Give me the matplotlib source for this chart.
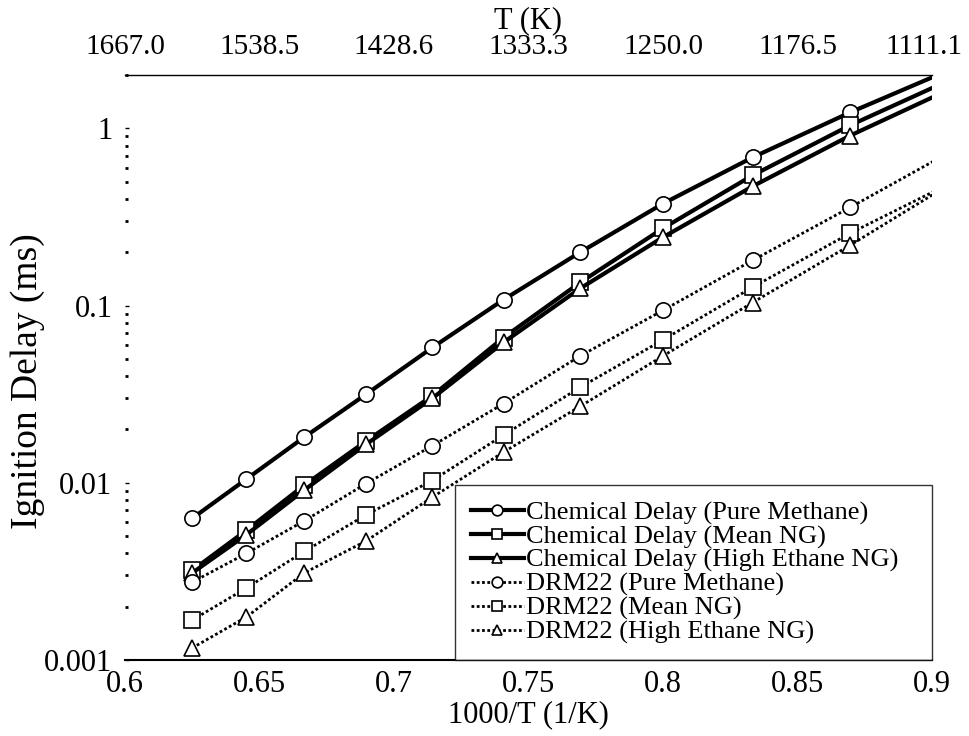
import numpy as np
import matplotlib
matplotlib.use("Agg")
import matplotlib.pyplot as plt
import matplotlib.transforms as mtransforms

plt.rcParams['font.family'] = ['Liberation Serif', 'DejaVu Serif']

# temperatures of the computed points (K) -> 1000/T
temps = [1600, 1550, 1500, 1450, 1400, 1350, 1300, 1250, 1200, 1150, 1100]
inv_t = [1000.0 / t for t in temps]

# ignition delay (ms)
chem_pure = [0.0063, 0.0105, 0.0181, 0.0316, 0.058, 0.108, 0.200, 0.376, 0.686, 1.23, 2.22]
chem_mean = [0.0032, 0.0054, 0.0097, 0.0172, 0.031, 0.066, 0.135, 0.273, 0.543, 1.04, 1.95]
chem_high = [0.0031, 0.0051, 0.0091, 0.0165, 0.030, 0.062, 0.125, 0.243, 0.471, 0.91, 1.73]
drm_pure = [0.00275, 0.0040, 0.0061, 0.0099, 0.0162, 0.028, 0.052, 0.094, 0.180, 0.358, 0.77]
drm_mean = [0.00168, 0.00255, 0.0041, 0.0066, 0.0103, 0.0186, 0.0346, 0.064, 0.127, 0.256, 0.51]
drm_high = [0.00117, 0.00175, 0.0031, 0.0047, 0.0083, 0.0149, 0.027, 0.052, 0.104, 0.219, 0.51]

labels = ["Chemical Delay (Pure Methane)", "Chemical Delay (Mean NG)",
          "Chemical Delay (High Ethane NG)", "DRM22 (Pure Methane)",
          "DRM22 (Mean NG)", "DRM22 (High Ethane NG)"]
series = [chem_pure, chem_mean, chem_high, drm_pure, drm_mean, drm_high]
markers = ['o', 's', '^', 'o', 's', '^']

x_ticks = [0.6, 0.65, 0.7, 0.75, 0.8, 0.85, 0.9]
x_labels = ['0.6', '0.65', '0.7', '0.75', '0.8', '0.85', '0.9']
y_ticks = [0.001, 0.01, 0.1, 1]
y_labels = ['0.001', '0.01', '0.1', '1']
top_labels = ['1667.0', '1538.5', '1428.6', '1333.3', '1250.0', '1176.5', '1111.1']

fig = plt.figure(figsize=(9.7, 7.36), dpi=100)
ax = fig.add_axes([125 / 970, 1 - 660 / 736, 807 / 970, 585 / 736])

for i, (vals, lab, mk) in enumerate(zip(series, labels, markers)):
    if i < 3:
        ax.plot(inv_t, vals, color='black', lw=3.0, ls='-', marker=mk,
                ms=11, mfc='white', mec='black', mew=1.2, label=lab)
    else:
        ax.plot(inv_t, vals, color='black', lw=2.0, ls=(0, (1, 0.9)), marker=mk,
                ms=11, mfc='white', mec='black', mew=1.2, label=lab)

ax.set_yscale('log')
ax.set_xlim(0.6, 0.9)
ax.set_ylim(0.001, 2.0)
ax.set_xticks(x_ticks)
ax.set_xticklabels(x_labels)
ax.set_yticks(y_ticks)
ax.set_yticklabels(y_labels)
ax.tick_params(axis='x', which='major', labelsize=22, length=0, pad=7)
ax.tick_params(axis='y', which='major', labelsize=22, direction='in',
               length=3, width=1, pad=9)
ax.tick_params(axis='y', which='minor', direction='in', length=2, width=2)

ax.spines['left'].set_visible(False)
ax.spines['right'].set_visible(False)
ax.spines['bottom'].set_linewidth(1.5)
ax.spines['top'].set_linewidth(1.0)

ax.set_xlabel('1000/T (1/K)', fontsize=22, labelpad=1)
ax.set_ylabel('Ignition Delay (ms)', fontsize=27)
ax.yaxis.set_label_coords(-0.099, 0.477)

top = ax.twiny()
top.set_xlim(ax.get_xlim())
top.set_xticks(x_ticks)
top.set_xticklabels(top_labels)
top.tick_params(axis='x', labelsize=21, length=0, pad=11)
top.set_xlabel('T (K)', fontsize=22, labelpad=4)
for s in top.spines.values():
    s.set_visible(False)
# last top label sits against the right edge in the original
last = top.get_xticklabels()[-1]
last.set_transform(last.get_transform() +
                   mtransforms.ScaledTranslation(-8 / 100, 0, fig.dpi_scale_trans))

leg = ax.legend(loc='lower left', bbox_to_anchor=(0.409, 0.0, 0.591, 0.299),
                mode='expand', borderaxespad=0, fontsize=19, frameon=True,
                fancybox=False, handlelength=2.0, handletextpad=0.1,
                labelspacing=0.0, borderpad=0.6, markerscale=0.7)
leg.get_frame().set_edgecolor('black')
leg.get_frame().set_linewidth(1.0)

fig.savefig('out.png', dpi=100)
